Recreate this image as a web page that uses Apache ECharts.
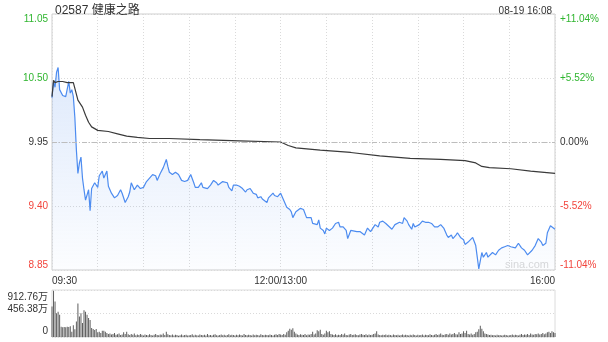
<!DOCTYPE html>
<html><head><meta charset="utf-8">
<script src="https://cdn.jsdelivr.net/npm/echarts@6/dist/echarts.min.js"></script>
<style>html,body{margin:0;padding:0;background:#fff}#c{width:608px;height:342px}</style>
</head><body><div id="c"></div>
<script>
const stockTitle = '02587 健康之路';
const stampText = '08-19 16:08';
const watermark = 'sina.com';
const prevClose = 9.95;
const priceMin = 8.85, priceMax = 11.05, priceStep = 0.55;
const pctMin = -11.04, pctMax = 11.04, pctStep = 5.52;
const volMax = 912.76, volStep = 456.38;
const sessionMinutes = 330;
const timeTicks = {0: '09:30', 150: '12:00/13:00', 330: '16:00'};

// trading minutes since 09:30 (lunch removed) and price
const priceMinute = [
  0,1,2,3,4,5,7,9,10,11,
  12,13,14,15,16,17,18,19,20,21,
  22,24,25,26,27,28,30,31,33,34,
  36,37,38,39,41,43,45,46,48,50,
  51,52,54,56,58,60,62,63,66,68,
  69,71,73,75,76,77,79,81,83,85,
  87,89,91,93,94,96,98,99,102,104,
  106,108,109,112,113,115,116,118,119,121,
  123,125,127,128,130,132,134,135,137,138,
  141,142,145,146,148,150,152,154,156,157,
  158,160,161,163,164,165,167,168,170,171,
  174,175,176,178,179,180,182,184,186,188,
  189,191,193,194,196,197,200,202,203,205,
  207,209,210,212,214,215,217,219,220,223,
  225,226,228,230,231,233,234,236,237,238,
  239,241,243,245,247,249,251,253,255,257,
  259,260,262,263,265,266,268,270,271,273,
  276,278,279,280,282,283,285,286,289,291,
  293,295,297,299,301,302,304,306,308,310,
  312,315,317,319,321,322,324,325,327,330
];
const price = [
  10.33,10.47,10.42,10.55,10.59,10.40,10.35,10.34,10.34,10.47,
  10.37,10.40,10.34,10.16,9.88,9.68,9.77,9.82,9.64,9.54,
  9.45,9.54,9.36,9.55,9.55,9.60,9.56,9.66,9.70,9.64,
  9.70,9.57,9.54,9.51,9.47,9.49,9.54,9.51,9.43,9.48,
  9.52,9.60,9.54,9.58,9.55,9.56,9.61,9.62,9.67,9.66,
  9.62,9.68,9.73,9.80,9.74,9.69,9.67,9.69,9.67,9.62,
  9.61,9.62,9.67,9.60,9.56,9.56,9.60,9.56,9.55,9.58,
  9.62,9.60,9.58,9.61,9.60,9.60,9.56,9.53,9.58,9.58,
  9.57,9.55,9.52,9.54,9.55,9.51,9.50,9.47,9.48,9.46,
  9.43,9.47,9.51,9.49,9.48,9.51,9.45,9.39,9.37,9.35,
  9.30,9.35,9.36,9.38,9.39,9.37,9.30,9.29,9.30,9.25,
  9.24,9.28,9.21,9.19,9.16,9.21,9.19,9.21,9.25,9.26,
  9.22,9.22,9.19,9.12,9.19,9.18,9.18,9.18,9.18,9.15,
  9.21,9.18,9.18,9.24,9.22,9.26,9.27,9.25,9.24,9.20,
  9.24,9.25,9.26,9.25,9.30,9.27,9.24,9.20,9.25,9.22,
  9.21,9.24,9.27,9.26,9.26,9.25,9.22,9.22,9.24,9.21,
  9.15,9.13,9.15,9.12,9.15,9.17,9.13,9.11,9.07,9.09,
  9.13,9.06,8.96,8.86,9.00,8.96,9.00,8.96,9.00,8.98,
  9.02,9.04,9.05,9.06,9.05,9.06,9.04,9.08,9.04,9.02,
  8.98,9.02,9.06,9.12,9.09,9.06,9.08,9.17,9.23,9.20
];
const avgMinute = [0,1,2,4,7,10,14,15,17,20,22,24,26,30,37,43,49,56,64,77,97,123,150,155,160,176,196,215,235,255,271,278,282,287,301,314,330];
const avgPrice = [10.34,10.48,10.46,10.47,10.47,10.46,10.46,10.41,10.31,10.25,10.18,10.12,10.08,10.05,10.04,10.02,10.00,9.99,9.98,9.98,9.97,9.96,9.95,9.92,9.90,9.88,9.86,9.83,9.81,9.80,9.79,9.77,9.74,9.73,9.72,9.70,9.68];
// volume per trading minute (万股), minute 0..330
const volume = [
  590,900,690,460,490,430,200,190,195,190,
  200,195,210,100,230,150,300,650,400,460,
  270,520,490,430,370,330,175,155,135,155,
  90,100,80,120,120,100,80,60,70,50,
  60,80,45,55,70,40,50,90,60,100,
  55,40,60,45,70,35,50,40,60,45,
  30,50,40,35,55,40,30,45,60,40,
  35,50,45,70,40,100,55,40,35,50,
  30,45,40,25,35,50,30,40,45,30,
  35,40,55,30,45,35,30,50,40,35,
  45,30,60,35,40,30,45,55,35,30,
  40,50,35,45,30,40,55,35,45,40,
  30,45,35,50,40,30,60,40,35,45,
  40,30,50,35,45,40,30,55,40,35,
  45,40,35,50,40,30,45,55,40,60,
  50,40,60,45,90,120,160,140,170,100,
  70,50,40,55,45,40,60,35,50,45,
  60,100,50,70,130,110,140,60,45,70,
  120,90,110,60,50,40,55,35,45,40,
  60,45,70,40,35,50,60,40,45,55,
  40,35,50,60,45,40,55,35,50,40,
  45,60,70,110,50,40,35,45,40,50,
  35,45,40,30,50,40,35,45,30,40,
  50,35,45,40,30,45,35,50,40,30,
  45,35,40,50,30,45,40,35,55,40,
  35,45,60,40,50,70,45,40,55,60,
  45,70,50,60,80,55,50,90,60,70,
  110,80,120,60,50,70,45,60,90,100,
  150,220,160,110,70,60,50,40,45,35,
  40,30,45,35,40,30,35,45,40,30,
  35,40,50,35,45,40,30,45,60,40,
  50,45,60,40,70,50,45,60,55,70,
  50,60,80,55,70,90,100,80,110,90,
  80
];

const GREEN = '#2fb52f', RED = '#f2443c', DARK = '#333333';
const FONT = '"Liberation Sans", Arial, "Noto Sans CJK SC", sans-serif';

function richSet(size) {
  const o = {};
  const cols = {g: GREEN, r: RED, k: DARK};
  for (const k in cols) {
    o[k] = {color: cols[k], fontSize: size, fontFamily: FONT};
    o[k + 't'] = {color: cols[k], fontSize: size, fontFamily: FONT, padding: [10, 0, 0, 0]};
    o[k + 'b'] = {color: cols[k], fontSize: size, fontFamily: FONT, padding: [0, 0, 10, 0]};
  }
  return o;
}
const near = (a, b) => Math.abs(a - b) < 1e-6;

function priceLabel(v) {
  const c = v > prevClose + 1e-6 ? 'g' : (v < prevClose - 1e-6 ? 'r' : 'k');
  const p = near(v, priceMax) ? 't' : (near(v, priceMin) ? 'b' : '');
  return '{' + c + p + '|' + v.toFixed(2) + '}';
}
function pctLabel(v) {
  const c = v > 1e-6 ? 'g' : (v < -1e-6 ? 'r' : 'k');
  const p = near(v, pctMax) ? 't' : (near(v, pctMin) ? 'b' : '');
  const s = (v > 1e-6 ? '+' : '') + (Math.abs(v) < 1e-6 ? '0.00' : v.toFixed(2)) + '%';
  return '{' + c + p + '|' + s + '}';
}
function volLabel(v) {
  if (near(v, volMax)) return '{vt|' + v.toFixed(2) + '万}';
  if (near(v, volStep)) return '{vm|' + v.toFixed(2) + '万}';
  return '{vb|0}';
}

const priceData = priceMinute.map((m, i) => [m, price[i]]);
const avgData = avgMinute.map((m, i) => [m, avgPrice[i]]);
const volData = volume.map((v, i) => [i, v]);

const chart = echarts.init(document.getElementById('c'), null, {renderer: 'canvas'});
chart.setOption({
  animation: false,
  textStyle: {fontFamily: FONT},
  title: [
    {text: stockTitle, left: 50, top: 0, textStyle: {fontSize: 12, fontWeight: 'normal', color: DARK, fontFamily: FONT}},
    {text: stampText, right: 51, top: 1, textStyle: {fontSize: 10, fontWeight: 'normal', color: DARK, fontFamily: FONT}}
  ],
  graphic: [
    {type: 'text', left: 505, top: 259, silent: true, style: {text: watermark, fill: '#d8d8d8', font: '11px ' + FONT}}
  ],
  grid: [
    {left: 52, right: 53, top: 14, height: 256, show: true, borderColor: '#cfcfcf', borderWidth: 1},
    {left: 52, right: 53, top: 290, height: 47, show: true, borderColor: '#dcdcdc', borderWidth: 1}
  ],
  xAxis: [
    {type: 'value', gridIndex: 0, min: 0, max: sessionMinutes, interval: 30,
     axisLine: {show: false}, axisTick: {show: false},
     splitLine: {show: true, lineStyle: {color: '#dadada', type: [1, 2]}},
     axisLabel: {show: true, margin: 6, fontSize: 10, color: DARK, fontFamily: FONT,
       alignMinLabel: 'left', alignMaxLabel: 'right', hideOverlap: false,
       formatter: v => (timeTicks[v] !== undefined ? timeTicks[v] : '')}},
    {type: 'value', gridIndex: 1, min: 0, max: sessionMinutes, interval: 30,
     axisLine: {show: false}, axisTick: {show: false}, splitLine: {show: false}, axisLabel: {show: false}}
  ],
  yAxis: [
    {type: 'value', gridIndex: 0, min: priceMin, max: priceMax, interval: priceStep, position: 'left',
     axisLine: {show: false}, axisTick: {show: false},
     splitLine: {show: true, lineStyle: {color: '#dadada', type: [1, 2]}},
     axisLabel: {margin: 4, formatter: priceLabel, rich: richSet(10)}},
    {type: 'value', gridIndex: 0, min: pctMin, max: pctMax, interval: pctStep, position: 'right',
     axisLine: {show: false}, axisTick: {show: false}, splitLine: {show: false},
     axisLabel: {margin: 5, formatter: pctLabel, rich: richSet(10)}},
    {type: 'value', gridIndex: 1, min: 0, max: volMax, interval: volStep, position: 'left',
     axisLine: {show: false}, axisTick: {show: false},
     splitLine: {show: true, lineStyle: {color: '#dadada', type: [1, 2]}},
     axisLabel: {margin: 4, formatter: volLabel, rich: {
       vt: {color: DARK, fontSize: 10, fontFamily: FONT, padding: [14, 0, 0, 0]},
       vm: {color: DARK, fontSize: 10, fontFamily: FONT, padding: [0, 0, 8, 0]},
       vb: {color: DARK, fontSize: 10, fontFamily: FONT, padding: [0, 0, 12, 0]}
     }}}
  ],
  series: [
    {type: 'line', name: 'price', xAxisIndex: 0, yAxisIndex: 0, data: priceData,
     showSymbol: false, symbol: 'none', silent: true,
     lineStyle: {color: '#4d8cf0', width: 1.2},
     areaStyle: {origin: 'start', color: new echarts.graphic.LinearGradient(0, 0, 0, 1, [
       {offset: 0, color: 'rgba(110,160,240,0.32)'},
       {offset: 1, color: 'rgba(110,160,240,0.03)'}
     ])},
     markLine: {symbol: 'none', silent: true, label: {show: false},
       lineStyle: {color: '#bdbdbd', width: 1, type: [5, 2, 1, 2]},
       data: [{yAxis: prevClose}]},
     z: 3},
    {type: 'line', name: 'avg', xAxisIndex: 0, yAxisIndex: 0, data: avgData,
     showSymbol: false, symbol: 'none', silent: true,
     lineStyle: {color: '#3a3a3a', width: 1.2}, z: 4},
    {type: 'bar', name: 'volume', xAxisIndex: 1, yAxisIndex: 2, data: volData,
     barWidth: 1, silent: true, itemStyle: {color: '#5e5e5e'}}
  ]
});
</script>
</body></html>
